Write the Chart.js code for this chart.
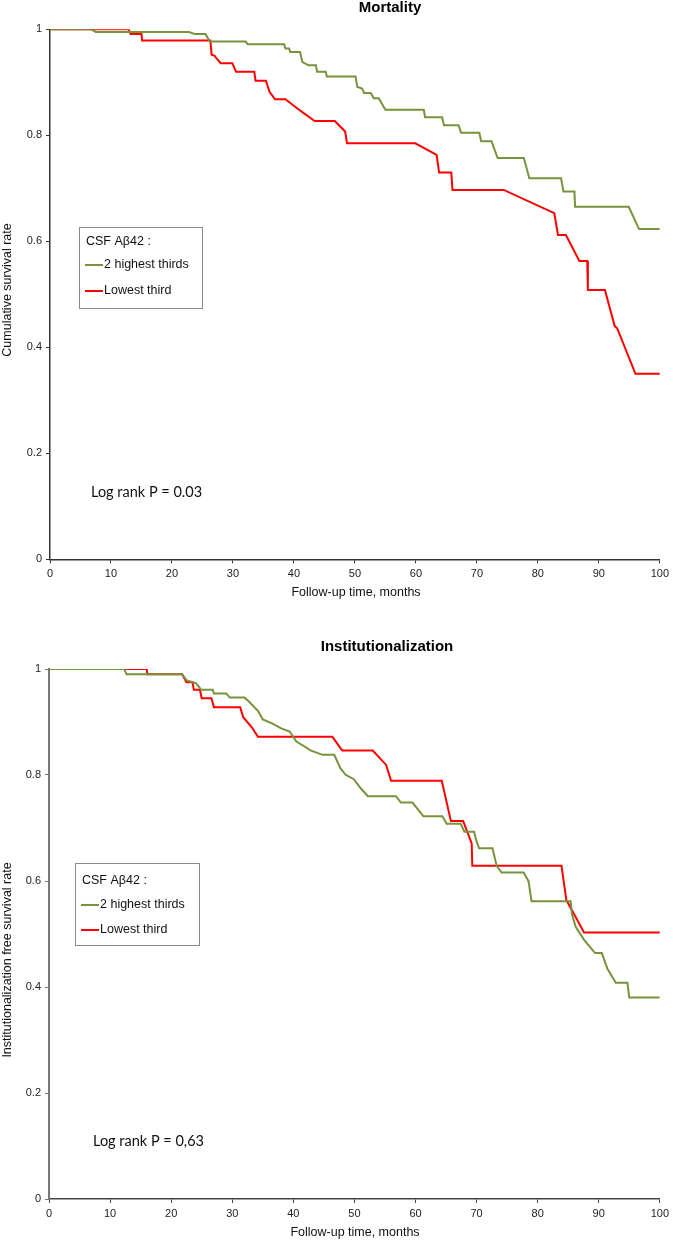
<!DOCTYPE html>
<html>
<head>
<meta charset="utf-8">
<script src="https://cdn.jsdelivr.net/npm/chart.js@4/dist/chart.umd.min.js"></script>
<style>
  body { margin: 0; background: #fff; }
  canvas { display: block; }
</style>
</head>
<body>
<canvas id="mortChart" width="673" height="620"></canvas>
<canvas id="instChart" width="673" height="621"></canvas>
<script>
// Axis ticks
const xTicks = [0, 10, 20, 30, 40, 50, 60, 70, 80, 90, 100];
const yTicks = [0, 0.2, 0.4, 0.6, 0.8, 1];
const yTickLabels = ['0', '0.2', '0.4', '0.6', '0.8', '1'];

const seriesNames = ['2 highest thirds', 'Lowest third'];

// Mortality - 2 highest thirds (months, survival)
const mortHighT = [0, 6.8, 7.5, 22.8, 23.8, 25.5, 26.2, 32.1, 32.4, 38.4, 38.6, 39.2, 39.4, 41.0, 41.4, 42.4, 43.6, 43.8, 45.2, 45.4,
  50.1, 50.4, 51.2, 51.5, 52.6, 53.1, 53.9, 55.0, 61.3, 61.5, 64.3, 64.6, 67.0, 67.4, 70.4, 70.7, 72.4, 73.4, 77.7, 78.6,
  83.8, 84.2, 86.0, 86.1, 94.9, 96.6, 100];
const mortHighS = [1, 1, 0.995, 0.995, 0.991, 0.991, 0.977, 0.977, 0.972, 0.972, 0.964, 0.964, 0.957, 0.957, 0.938, 0.932, 0.932, 0.920, 0.920, 0.911,
  0.911, 0.891, 0.888, 0.880, 0.880, 0.870, 0.870, 0.848, 0.848, 0.834, 0.834, 0.819, 0.819, 0.805, 0.805, 0.789, 0.789, 0.757, 0.757, 0.719,
  0.719, 0.694, 0.694, 0.665, 0.665, 0.623, 0.623];

// Mortality - lowest third
const mortLowT = [0, 12.9, 13.2, 15.0, 15.1, 26.3, 26.5, 27.0, 27.3, 28.0, 29.9, 30.5, 33.5, 33.7, 35.4, 36.0, 36.9, 38.6, 41.1, 43.4,
  46.7, 48.4, 48.7, 59.9, 63.4, 63.8, 65.8, 66.0, 74.4, 82.7, 83.3, 84.6, 86.8, 88.1, 88.2, 91.0, 92.6, 93.0, 96.0, 100];
const mortLowS = [1, 1, 0.991, 0.991, 0.979, 0.979, 0.952, 0.950, 0.945, 0.936, 0.936, 0.920, 0.920, 0.903, 0.903, 0.882, 0.868, 0.868, 0.846, 0.827,
  0.827, 0.807, 0.785, 0.785, 0.763, 0.730, 0.730, 0.697, 0.697, 0.653, 0.612, 0.612, 0.563, 0.563, 0.508, 0.508, 0.440, 0.436, 0.350, 0.350];

// Institutionalization - 2 highest thirds
const instHighT = [0, 12.3, 12.7, 21.8, 22.5, 24.1, 24.9, 26.8, 27.0, 29.0, 29.6, 32.0, 32.6, 34.2, 35.0, 36.6, 38.0, 39.4, 40.5, 41.8,
  42.9, 44.8, 46.7, 47.7, 48.6, 49.9, 51.1, 52.2, 56.8, 57.6, 59.5, 61.3, 64.4, 65.1, 67.4, 68.0, 69.6, 69.9, 70.4, 72.6,
  73.3, 74.1, 77.7, 78.5, 79.0, 85.4, 85.6, 86.2, 87.6, 89.4, 90.5, 91.4, 92.8, 94.7, 95.0, 100];
const instHighS = [1, 1, 0.990, 0.990, 0.979, 0.973, 0.961, 0.961, 0.954, 0.954, 0.946, 0.946, 0.940, 0.921, 0.905, 0.897, 0.888, 0.882, 0.863, 0.854,
  0.846, 0.838, 0.838, 0.813, 0.800, 0.792, 0.774, 0.760, 0.760, 0.748, 0.748, 0.722, 0.722, 0.708, 0.708, 0.693, 0.693, 0.678, 0.662, 0.662,
  0.628, 0.616, 0.616, 0.600, 0.562, 0.562, 0.538, 0.514, 0.489, 0.464, 0.464, 0.435, 0.408, 0.408, 0.380, 0.380];

// Institutionalization - lowest third
const instLowT = [0, 16.0, 16.1, 21.8, 22.5, 23.5, 23.7, 24.7, 25.0, 26.6, 27.0, 31.3, 31.8, 33.2, 34.2, 46.4, 48.0, 53.0, 55.2, 56.0,
  64.3, 65.8, 67.8, 68.4, 69.2, 69.3, 83.9, 84.7, 87.6, 100];
const instLowS = [1, 1, 0.990, 0.990, 0.975, 0.975, 0.961, 0.961, 0.945, 0.945, 0.928, 0.928, 0.909, 0.890, 0.872, 0.872, 0.846, 0.846, 0.819, 0.789,
  0.789, 0.713, 0.713, 0.695, 0.671, 0.629, 0.629, 0.564, 0.503, 0.503];

const GREEN = '#77933C';
const RED = '#FF0000';
const FONT = '"Liberation Sans", Arial, sans-serif';

function toPoints(ts, ss) {
  return ts.map((t, i) => ({ x: t, y: ss[i] }));
}

// Draws titles, axis titles, log-rank note and the boxed legend
const annotations = {
  id: 'annotations',
  afterDraw(chart, args, o) {
    const ctx = chart.ctx;
    ctx.save();
    ctx.fillStyle = '#000';
    ctx.textBaseline = 'middle';

    ctx.font = 'bold 15px ' + FONT;
    ctx.textAlign = 'center';
    ctx.fillText(o.title, o.titleX, o.titleY);

    ctx.font = '12.5px ' + FONT;
    ctx.fillStyle = '#111';
    ctx.fillText('Follow-up time, months', o.xTitleX, o.xTitleY);

    ctx.save();
    ctx.translate(o.yTitleX, o.yTitleY);
    ctx.rotate(-Math.PI / 2);
    ctx.fillText(o.yTitle, 0, 0);
    ctx.restore();

    ctx.font = '14.5px Lato, sans-serif';
    ctx.textAlign = 'left';
    ctx.fillText(o.note, o.noteX, o.noteY);

    // legend box
    const L = o.legend;
    ctx.strokeStyle = '#8a8a8a';
    ctx.lineWidth = 1;
    ctx.strokeRect(L.x + 0.5, L.y + 0.5, L.w, L.h);
    ctx.font = '12.5px ' + FONT;
    ctx.fillStyle = '#111';
    ctx.fillText('CSF A\u03b242 :', L.x + 7, L.rows[0]);
    chart.data.datasets.forEach((ds, i) => {
      const y = L.rows[i + 1];
      ctx.strokeStyle = ds.borderColor;
      ctx.lineWidth = 2;
      ctx.beginPath();
      ctx.moveTo(L.x + 6, y);
      ctx.lineTo(L.x + 24, y);
      ctx.stroke();
      ctx.fillText(ds.label, L.x + 25, y);
    });
    ctx.restore();
  }
};

function makeChart(id, high, low, geo, ann) {
  const canvas = document.getElementById(id);
  return new Chart(canvas.getContext('2d'), {
    type: 'line',
    data: {
      datasets: [
        { label: seriesNames[0], data: high, borderColor: GREEN, borderWidth: 2, pointRadius: 0, fill: false, tension: 0 },
        { label: seriesNames[1], data: low, borderColor: RED, borderWidth: 2, pointRadius: 0, fill: false, tension: 0 }
      ]
    },
    options: {
      responsive: false,
      animation: false,
      layout: { padding: { left: 0, top: geo.top, right: canvas.width - geo.right, bottom: 0 } },
      plugins: {
        legend: { display: false },
        tooltip: { enabled: false },
        annotations: ann
      },
      scales: {
        x: {
          type: 'linear',
          min: 0,
          max: 100,
          afterBuildTicks: s => { s.ticks = xTicks.map(v => ({ value: v })); },
          afterFit: s => { s.height = canvas.height - geo.bottom; },
          ticks: { color: '#222', font: { family: FONT, size: 11 }, padding: 4, maxRotation: 0, autoSkip: false },
          grid: { drawOnChartArea: false, drawTicks: true, tickLength: 4, tickColor: geo.xColor, tickWidth: 1 },
          border: { display: true, color: geo.xColor, width: 1.5 }
        },
        y: {
          min: 0,
          max: 1,
          afterBuildTicks: s => { s.ticks = yTicks.map(v => ({ value: v })); },
          afterFit: s => { s.width = geo.left; },
          ticks: {
            color: '#222', font: { family: FONT, size: 11 }, padding: 4,
            callback: v => yTickLabels[yTicks.indexOf(v)]
          },
          grid: { drawOnChartArea: false, drawTicks: true, tickLength: 4, tickColor: geo.yColor, tickWidth: 1 },
          border: { display: true, color: geo.yColor, width: geo.yWidth }
        }
      }
    },
    plugins: [annotations]
  });
}

makeChart('mortChart',
  toPoints(mortHighT, mortHighS),
  toPoints(mortLowT, mortLowS),
  { left: 50, right: 662.7, top: 29.3, bottom: 559.3, xColor: '#333', yColor: '#333', yWidth: 1.5 },
  {
    title: 'Mortality', titleX: 390, titleY: 8,
    xTitleX: 356, xTitleY: 593,
    yTitle: 'Cumulative survival rate', yTitleX: 8, yTitleY: 290,
    note: 'Log rank P = 0.03', noteX: 91, noteY: 492,
    legend: { x: 79, y: 227, w: 123, h: 81, rows: [242, 265, 291] }
  });

makeChart('instChart',
  toPoints(instHighT, instHighS),
  toPoints(instLowT, instLowS),
  { left: 49, right: 661, top: 49, bottom: 579, xColor: '#444', yColor: '#777', yWidth: 2 },
  {
    title: 'Institutionalization', titleX: 387, titleY: 27,
    xTitleX: 355, xTitleY: 613,
    yTitle: 'Institutionalization free survival rate', yTitleX: 8, yTitleY: 340,
    note: 'Log rank P = 0,63', noteX: 93, noteY: 521,
    legend: { x: 75, y: 243, w: 124, h: 82, rows: [261, 285, 310] }
  });
</script>
</body>
</html>
